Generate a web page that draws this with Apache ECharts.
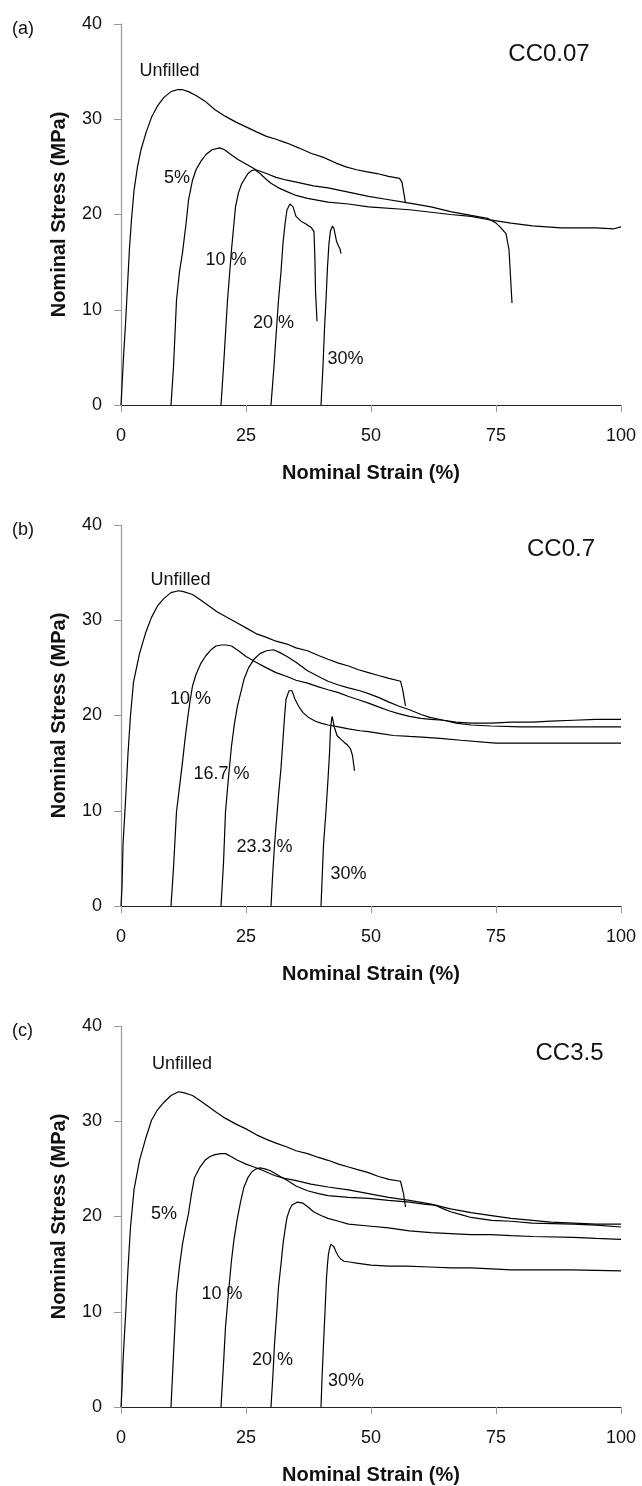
<!DOCTYPE html>
<html>
<head>
<meta charset="utf-8">
<script src="https://cdn.jsdelivr.net/npm/echarts@6/dist/echarts.min.js"></script>
<style>
html,body{margin:0;padding:0;background:#fff;}
#chart{width:642px;height:1486px;}
</style>
</head>
<body>
<div id="chart"></div>
<script>
// ---------- data ----------
const xTicks = [0, 25, 50, 75, 100];
const yTicks = [0, 10, 20, 30, 40];
const panelLetters = ['(a)', '(b)', '(c)'];
const panelNames = ['CC0.07', 'CC0.7', 'CC3.5'];

// Panel (a) CC0.07
const a_unfilled = [[0,0],[0.2,2],[0.5,5],[0.9,8.5],[1.3,12.5],[1.7,16.5],[2.1,19.5],[2.6,22.5],[3.3,25],[4,26.8],[5,28.6],[6.1,30.2],[7.3,31.4],[8.6,32.3],[10,32.9],[11.2,33.1],[12.3,33.1],[13.5,32.9],[15,32.5],[16.8,31.9],[18.8,31.0],[20.9,30.3],[23,29.7],[25,29.2],[27,28.7],[29.1,28.2],[31,27.9],[33.2,27.5],[35.5,27.0],[38.1,26.4],[40.5,26.0],[43,25.4],[45,25.0],[47.1,24.7],[49,24.5],[51.2,24.3],[53.5,24.0],[55.7,23.8],[56.2,23.4],[56.9,21.2]];
const a_5 = [[10,0],[10.5,4],[11.1,11],[11.7,14],[12.3,16],[13,19],[13.5,21.5],[14.3,23.6],[15,24.7],[16,25.6],[17,26.3],[18.2,26.8],[19.7,27.0],[20.7,26.8],[21.7,26.4],[23.3,25.8],[25,25.3],[27,24.7],[29.1,24.3],[31,23.9],[33.2,23.6],[36,23.3],[38.5,23.0],[41.4,22.8],[45,22.4],[49.5,21.9],[53,21.6],[57.7,21.2],[62,20.8],[65.9,20.3],[70,19.9],[73.3,19.6],[75,19.1],[75.8,18.7],[77,18.0],[77.6,16.3],[78.2,10.7]];
const a_10 = [[20,0],[20.5,4],[21.3,11],[22.1,16.3],[22.9,20.8],[23.5,22.3],[24.2,23.3],[25.4,24.3],[26.1,24.6],[26.8,24.7],[27.8,24.3],[28.8,23.8],[29.9,23.3],[31.5,22.8],[33.2,22.4],[35,22],[37.3,21.7],[41.4,21.3],[45.5,21.1],[49.5,20.8],[57.7,20.5],[65.9,20.0],[70,19.8],[74.1,19.4],[78,19.1],[82.3,18.8],[88,18.6],[95,18.6],[98.6,18.5],[100,18.7]];
const a_20 = [[30,0],[30.6,4.1],[31.1,8],[31.5,11],[32,14],[32.4,17],[32.8,19],[33.2,20.5],[33.8,21.1],[34.4,20.8],[35,19.8],[36,19.3],[37,19.0],[38.1,18.6],[38.6,18.2],[38.8,15],[38.9,12],[39.2,8.8]];
const a_30 = [[40,0],[40.4,4.1],[40.7,8],[41.0,11],[41.3,14.5],[41.6,17],[41.9,18.3],[42.3,18.8],[42.6,18.5],[43.1,17.2],[43.5,16.7],[43.8,16.4],[44,15.9]];

// Panel (b) CC0.7
const b_unfilled = [[0,0],[0.2,2],[0.4,6.4],[0.9,11],[1.4,16],[1.9,20],[2.5,23.5],[3.7,26.5],[5,28.8],[6.1,30.3],[7.3,31.5],[8.6,32.3],[10,32.9],[11.5,33.1],[12.5,33.0],[14.3,32.7],[16,32.1],[17.6,31.5],[19.2,30.9],[20.9,30.4],[23,29.8],[25,29.2],[27,28.6],[29.1,28.2],[31,27.8],[33.2,27.5],[35,27.1],[37.3,26.8],[39.5,26.3],[41.4,25.9],[43.5,25.5],[45.5,25.2],[47.5,24.8],[49.5,24.5],[51.5,24.2],[53.6,23.9],[55.9,23.6],[56.3,22.8],[56.9,21.0]];
const b_10 = [[10,0],[10.5,4],[11.1,9.9],[11.7,12.5],[12.3,15.1],[12.8,17.5],[13.3,19.6],[13.8,21.5],[14.3,23.1],[15,24.3],[16,25.5],[17,26.3],[18,26.9],[19,27.3],[20.1,27.4],[21,27.4],[22.1,27.3],[23.5,26.8],[25,26.2],[27,25.6],[29.1,25.0],[31,24.5],[33.2,24.1],[35,23.7],[37.3,23.4],[39.5,23.0],[41.4,22.7],[43.5,22.4],[45.5,22.0],[47.8,21.6],[49.5,21.3],[51.5,20.9],[53.6,20.5],[55.5,20.2],[57.7,19.9],[60,19.7],[62,19.6],[64.5,19.5],[67,19.2],[70,19.0],[74,18.9],[80,18.8],[90,18.8],[100,18.8]];
const b_167 = [[20,0],[20.5,4.5],[20.9,9.9],[21.5,13.5],[22.1,16.8],[22.7,19.2],[23.3,21.0],[24,22.5],[24.6,23.8],[25.5,25],[26.6,25.9],[27.8,26.5],[29.1,26.8],[30.5,26.9],[31.8,26.6],[33.2,26.2],[35,25.6],[37.3,24.7],[39.5,24.1],[41.4,23.6],[43.5,23.2],[45.5,22.9],[47.8,22.6],[49.5,22.3],[51.5,21.9],[53.6,21.4],[55.5,21.0],[57.7,20.6],[60,20.1],[61.8,19.8],[64.5,19.5],[67,19.3],[70,19.2],[74.1,19.2],[78,19.3],[82.3,19.3],[86,19.4],[90.5,19.5],[95,19.6],[100,19.6]];
const b_233 = [[30,0],[30.3,3],[30.7,6.4],[31.1,9],[31.5,11.6],[32,14.5],[32.4,17.5],[32.7,19.8],[33,21.7],[33.6,22.6],[34.2,22.6],[34.8,21.7],[35.5,21],[36.4,20.3],[37.5,19.8],[38.9,19.4],[40,19.2],[41.4,19.0],[43.5,18.8],[45.5,18.6],[47.8,18.4],[49.5,18.3],[52,18.1],[54.5,17.9],[57.7,17.8],[61,17.7],[63.8,17.6],[68,17.4],[72.5,17.2],[75,17.1],[80,17.1],[90,17.1],[100,17.1]];
const b_30 = [[40,0],[40.5,6.4],[41,10],[41.4,13.3],[41.7,16],[41.9,18.6],[42.2,19.9],[42.4,19.5],[42.6,18.9],[43.2,17.9],[44,17.5],[44.6,17.2],[45.3,16.9],[45.9,16.5],[46.3,15.8],[46.7,14.2]];

// Panel (c) CC3.5
const c_unfilled = [[0,0],[0.2,2],[0.4,4.8],[0.9,9.5],[1.4,14.5],[1.9,18.9],[2.6,22.8],[3.7,25.9],[5,28.3],[6.1,30.1],[7.3,31.2],[8.6,32.0],[10,32.7],[11.5,33.1],[12.5,33.0],[14.3,32.7],[16,32.1],[17.6,31.5],[19.2,30.9],[20.9,30.3],[23,29.7],[25,29.2],[27,28.6],[29.1,28.1],[31,27.7],[33.2,27.3],[35,26.9],[37.3,26.6],[39.5,26.2],[41.4,25.9],[43.5,25.5],[45.5,25.2],[47.5,24.9],[49.5,24.6],[51.5,24.2],[53.6,23.9],[55.9,23.7],[56.5,22.4],[56.9,21.0]];
const c_5 = [[10,0],[10.5,5.5],[11.1,11.9],[11.7,14.8],[12.3,17.1],[12.9,18.8],[13.5,20.3],[14.1,22.4],[14.7,24.1],[15.7,25.1],[16.8,25.9],[17.8,26.3],[18.8,26.5],[20,26.6],[20.9,26.6],[22,26.3],[23.3,25.9],[25,25.5],[26.6,25.2],[28.5,24.8],[30.7,24.3],[32.7,24.0],[34.8,23.8],[38,23.4],[41.4,23.1],[45.5,22.8],[49.5,22.4],[53.5,22.0],[57.7,21.7],[62,21.3],[65.9,20.8],[70,20.4],[74.1,20.1],[78,19.8],[82.3,19.6],[86,19.4],[90.5,19.3],[95,19.2],[100,19.2]];
const c_10 = [[20,0],[20.5,4.5],[20.9,8.4],[21.5,12],[22.1,15.4],[22.6,17.6],[23.2,19.6],[23.9,21.5],[24.6,23.1],[25.4,24.1],[26.2,24.7],[27,25.0],[27.8,25.1],[28.8,25.0],[29.9,24.8],[31.5,24.3],[33.2,23.8],[35,23.2],[37.3,22.7],[39.5,22.4],[41.4,22.2],[45.5,22.0],[49.5,21.9],[53.5,21.7],[57.7,21.5],[60.5,21.3],[62.7,21.2],[64.5,20.8],[65.9,20.5],[68,20.2],[70,19.9],[74.1,19.6],[78,19.5],[82.3,19.3],[90.5,19.2],[95,19.1],[100,18.9]];
const c_20 = [[30,0],[30.4,3.5],[30.7,6.6],[31.1,9.5],[31.5,12.6],[32,15],[32.4,17.1],[32.8,18.6],[33.2,19.9],[33.7,20.7],[34.2,21.2],[35.2,21.5],[36.4,21.4],[37.4,21.0],[38.5,20.5],[40,20.1],[41.4,19.8],[43.5,19.5],[45.5,19.2],[49.5,19.0],[53.5,18.8],[57.7,18.5],[62,18.3],[65.9,18.2],[70,18.1],[74.1,18.1],[78,18.0],[82.3,17.9],[90.5,17.8],[95,17.7],[100,17.6]];
const c_30 = [[40,0],[40.2,3],[40.5,6.6],[40.8,10],[41.1,13.6],[41.3,15],[41.5,16.1],[41.8,16.8],[42.0,17.1],[42.3,17.1],[42.6,16.8],[43,16.3],[43.4,15.9],[44,15.5],[44.6,15.3],[46,15.2],[47.1,15.1],[50,14.9],[53.6,14.8],[57,14.8],[61.8,14.7],[66,14.6],[70,14.6],[74.1,14.5],[78,14.4],[82.3,14.4],[90,14.4],[100,14.3]];

// curve annotations: [text, strain, stress]
const a_labels = [['Unfilled',9.7,35.1],['5%',11.2,23.8],['10 %',21,15.2],['20 %',30.5,8.6],['30%',44.9,4.8]];
const b_labels = [['Unfilled',11.9,34.2],['10 %',13.9,21.7],['16.7 %',20.1,13.9],['23.3 %',28.7,6.2],['30%',45.5,3.4]];
const c_labels = [['Unfilled',12.2,36.0],['5%',8.6,20.3],['10 %',20.2,11.9],['20 %',30.3,4.9],['30%',45.0,2.7]];
const nameLabelPos = [[85.6,36.8],[88,37.4],[89.7,37.1]];

// ---------- chart ----------
const FONT = '"Liberation Sans", Arial, Helvetica, sans-serif';
const panels = [
  {curves:[a_unfilled,a_5,a_10,a_20,a_30], labels:a_labels},
  {curves:[b_unfilled,b_10,b_167,b_233,b_30], labels:b_labels},
  {curves:[c_unfilled,c_5,c_10,c_20,c_30], labels:c_labels}
];
const panelTops = [24, 525, 1026];
const gridH = 381;

const grids = [], xAxes = [], yAxes = [], series = [], graphics = [];
panels.forEach((p, i) => {
  grids.push({left:121, right:21, top:panelTops[i], height:gridH, containLabel:false});
  xAxes.push({
    type:'value', gridIndex:i, min:xTicks[0], max:xTicks[xTicks.length-1], interval:xTicks[1]-xTicks[0],
    name:'Nominal Strain (%)', nameLocation:'middle', nameGap:58,
    nameTextStyle:{fontFamily:FONT, fontSize:20, fontWeight:'bold', color:'#111'},
    axisLine:{show:true, onZero:false, lineStyle:{color:'#222', width:1.2}},
    axisTick:{show:true, length:7, lineStyle:{color:'#999', width:1}},
    axisLabel:{fontFamily:FONT, fontSize:18, color:'#111', margin:22},
    splitLine:{show:false}
  });
  yAxes.push({
    type:'value', gridIndex:i, min:yTicks[0], max:yTicks[yTicks.length-1], interval:yTicks[1]-yTicks[0],
    name:'Nominal Stress (MPa)', nameLocation:'middle', nameGap:52, nameRotate:90,
    nameTextStyle:{fontFamily:FONT, fontSize:20, fontWeight:'bold', color:'#111'},
    axisLine:{show:true, onZero:false, lineStyle:{color:'#999', width:1.2}},
    axisTick:{show:true, length:7, lineStyle:{color:'#999', width:1}},
    axisLabel:{fontFamily:FONT, fontSize:18, color:'#111', margin:19},
    splitLine:{show:false}
  });
  p.curves.forEach(c => {
    series.push({
      type:'line', xAxisIndex:i, yAxisIndex:i, data:c, showSymbol:false, symbol:'none',
      lineStyle:{color:'#000', width:1.2}, silent:true, animation:false, clip:true, z:3
    });
  });
  const lblData = p.labels.map(l => ({name:l[0], value:[l[1], l[2]]}));
  lblData.push({name:panelNames[i], value:nameLabelPos[i], label:{fontSize:24}});
  series.push({
    type:'scatter', xAxisIndex:i, yAxisIndex:i, symbolSize:0, data:lblData, silent:true, animation:false, z:5,
    itemStyle:{opacity:1, color:'#000'},
    emphasis:{disabled:true},
    label:{show:true, position:'inside', formatter:d => d.name, fontFamily:FONT, fontSize:18, color:'#111',
           textBorderWidth:0, opacity:1}
  });
  graphics.push({type:'text', left:12, top:panelTops[i]-4, style:{text:panelLetters[i], fontFamily:FONT, fontSize:18, fill:'#111'}});
});

const chart = echarts.init(document.getElementById('chart'), null, {renderer:'canvas'});
chart.setOption({
  backgroundColor:'#fff',
  animation:false,
  grid:grids, xAxis:xAxes, yAxis:yAxes, series:series, graphic:graphics
});
</script>
</body>
</html>
